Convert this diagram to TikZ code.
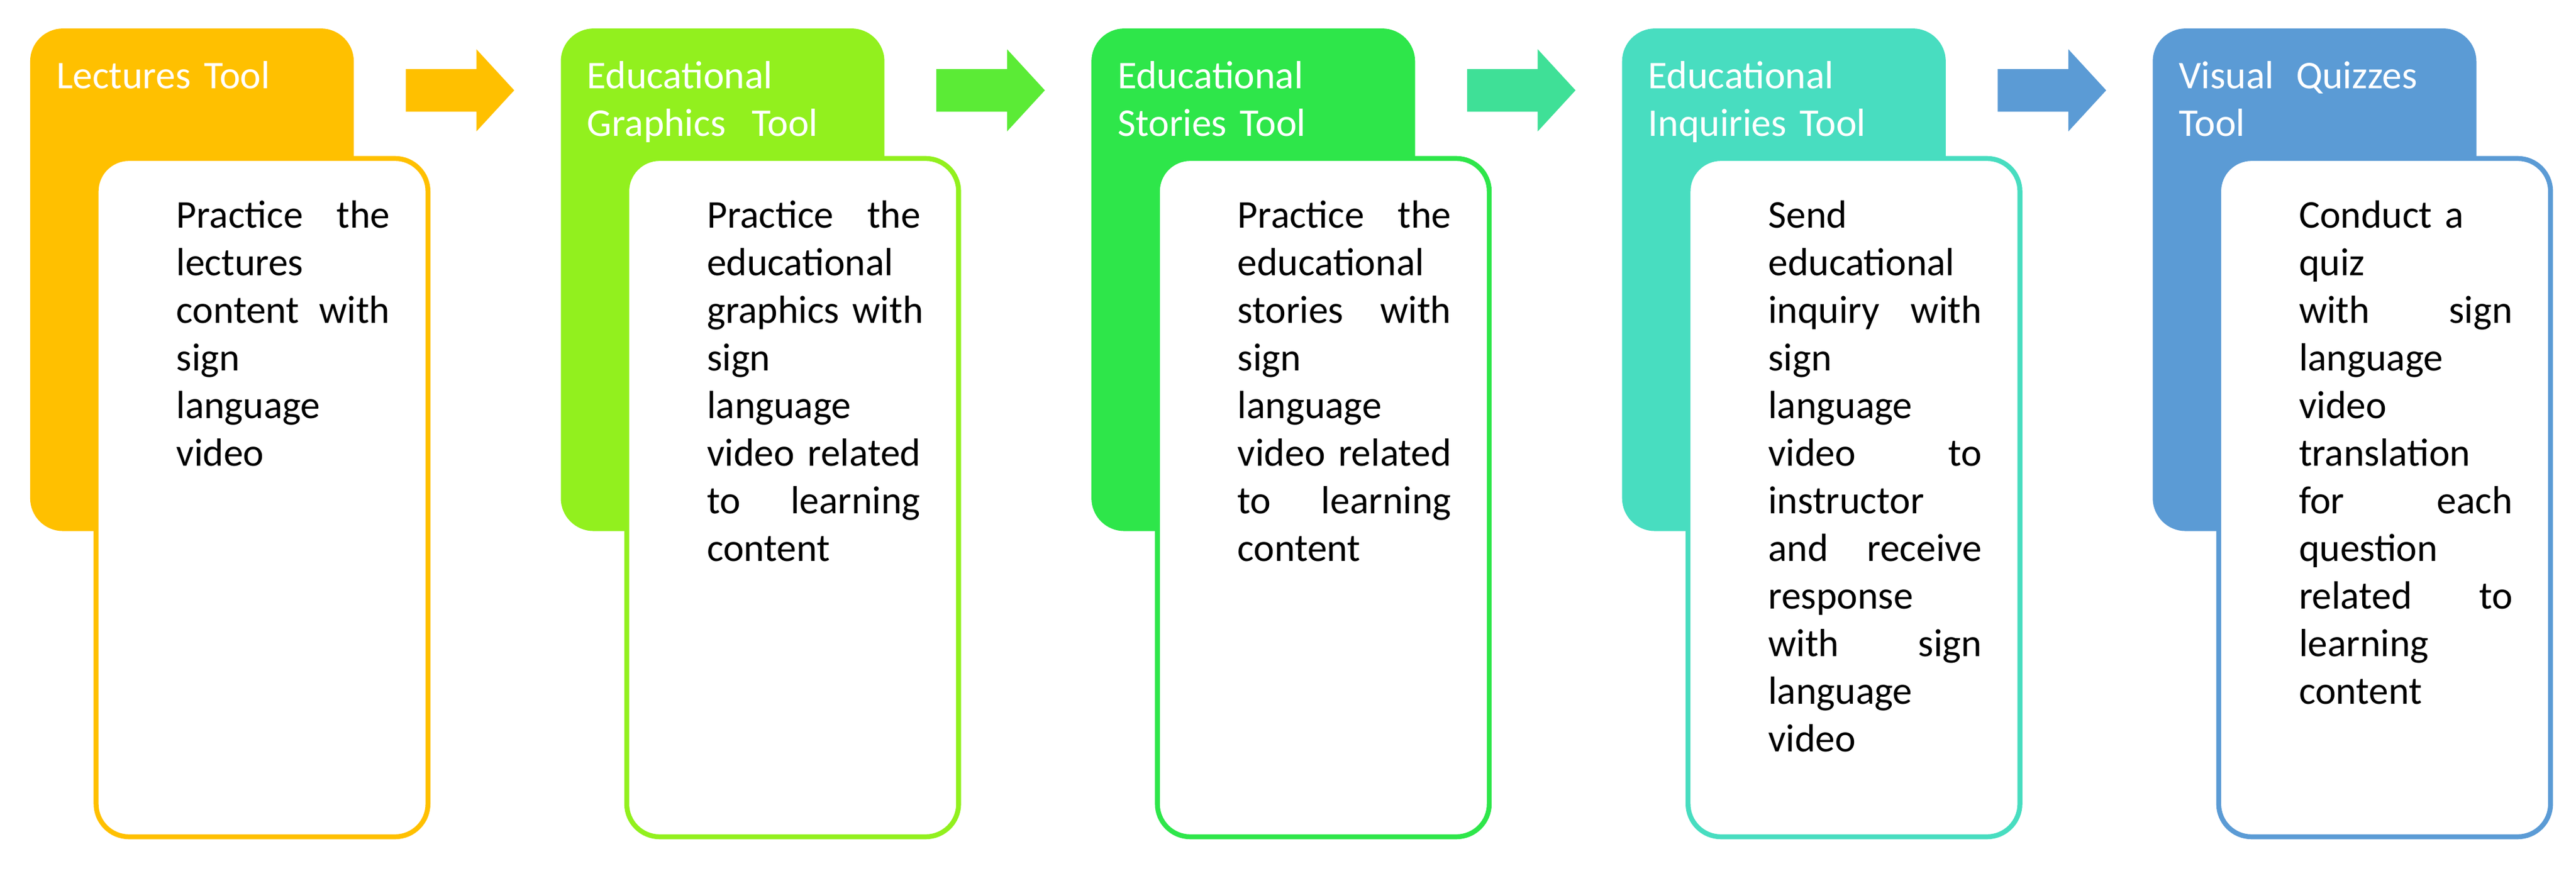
\documentclass[tikz,border=0pt]{standalone}
\usepackage{fontspec}
\setmainfont{Carlito}
\definecolor{c1}{HTML}{FFC000}
\definecolor{c2}{HTML}{92F01E}
\definecolor{c3}{HTML}{2EE64A}
\definecolor{c4}{HTML}{48DDC0}
\definecolor{c5}{HTML}{5B9BD5}
\newcommand{\jl}[2]{\makebox[\linewidth][l]{#1\hfill #2}}
\newcommand{\mytool}[5]{%
  \begin{scope}[xshift=#1*323*0.02cm]
    \node[hd,fill=#2] (hd#1) at (18,17) {};
    \node[htext] (ht#1) at (34,37) {#3};
    \node[bd,draw=#2] (bd#1) at (57,95) {};
    \node[btext] (bt#1) at (107,122) {#4};
  \end{scope}}
\begin{document}
\begin{tikzpicture}[x=0.02cm,y=-0.02cm,
  hd/.style={anchor=north west,minimum width=197*0.02cm,minimum height=306*0.02cm,rounded corners=0.4cm,inner sep=0},
  bd/.style={anchor=north west,minimum width=202*0.02cm,minimum height=413*0.02cm,rounded corners=0.4cm,fill=white,line width=1.7pt,inner sep=0},
  htext/.style={anchor=north west,text=white,text width=3.6cm,align=left,font=\fontsize{13.6}{16.5}\selectfont,inner sep=0},
  btext/.style={anchor=north west,text width=2.6cm,align=left,font=\fontsize{13.6}{16.5}\selectfont,inner sep=0}]
\useasboundingbox (0,0) rectangle (1568,530);
\mytool{0}{c1}{Lectures Tool}{\jl{Practice}{the}\\lectures\\\jl{content}{with}\\sign\\language\\video}{}
\mytool{1}{c2}{Educational\\Graphics~ Tool}{\jl{Practice}{the}\\educational\\\jl{graphics\ }{with}\\sign\\language\\\jl{video\ }{related}\\\jl{to}{learning}\\content}{}
\mytool{2}{c3}{Educational\\Stories Tool}{\jl{Practice}{the}\\educational\\\jl{stories}{with}\\sign\\language\\\jl{video\ }{related}\\\jl{to}{learning}\\content}{}
\mytool{3}{c4}{Educational\\Inquiries Tool}{Send\\educational\\\jl{inquiry}{with}\\sign\\language\\\jl{video}{to}\\instructor\\\jl{and}{receive}\\response\\\jl{with}{sign}\\language\\video}{}
\mytool{4}{c5}{\makebox[2.9cm][l]{Visual\hfill Quizzes}\\Tool}{Conduct a quiz\\\jl{with}{sign}\\language\\video\\translation\\\jl{for}{each}\\question\\\jl{related}{to}\\learning\\content}{}
\colorlet{a1}{c1}
\colorlet{a2}{c2!45!c3}
\colorlet{a3}{c3!35!c4}
\colorlet{a4}{c5}
\foreach \i/\c in {0/a1,1/a2,2/a3,3/a4}{
  \fill[\c] (247+\i*323,42) -- (290+\i*323,42) -- (290+\i*323,30) -- (313+\i*323,55) -- (290+\i*323,80) -- (290+\i*323,68) -- (247+\i*323,68) -- cycle;
}
\end{tikzpicture}
\end{document}
